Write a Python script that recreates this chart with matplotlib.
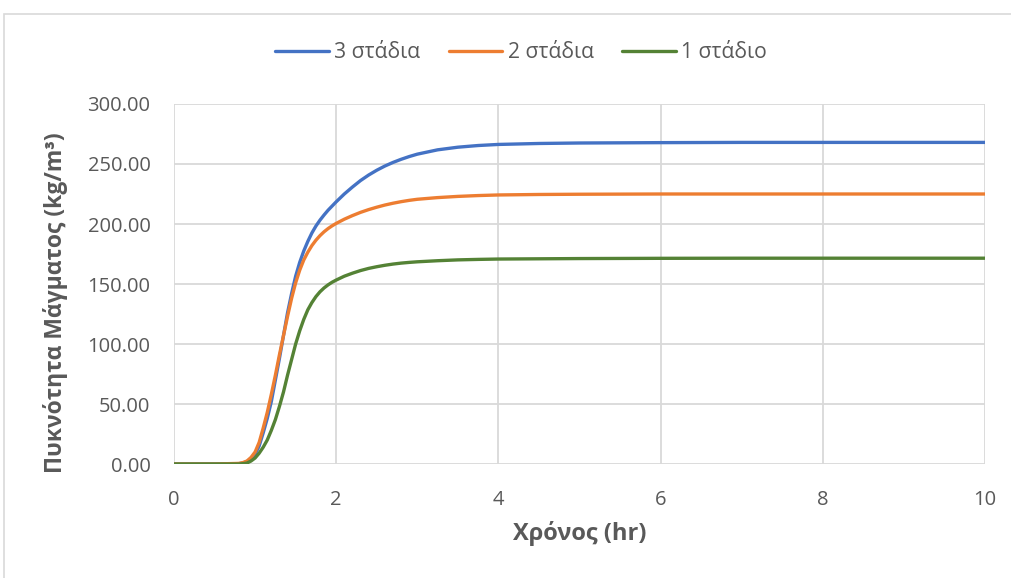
import matplotlib
matplotlib.use("Agg")
import matplotlib.pyplot as plt
from matplotlib.patches import Rectangle

plt.rcParams['font.family'] = ['Open Sans', 'DejaVu Sans']

# Time (hr)
time_hr = [0, 0.5, 0.8, 0.85, 0.9, 0.95, 1.0, 1.05, 1.1, 1.15, 1.2, 1.25, 1.3, 1.35,
           1.4, 1.45, 1.5, 1.55, 1.6, 1.65, 1.7, 1.75, 1.8, 1.85, 1.9, 1.95, 2.0,
           2.1, 2.2, 2.3, 2.4, 2.5, 2.6, 2.7, 2.8, 2.9, 3.0, 3.25, 3.5, 3.75, 4.0,
           4.5, 5, 6, 7, 8, 9, 10]

# Slurry density (kg/m3) for each number of stages
stages_3 = [0, 0, 0.3, 0.8, 2, 4.5, 8, 15, 26, 38, 52, 70, 88, 107,
            126, 142, 156.5, 168, 177.5, 185.5, 192.5, 198.3, 203.2, 207.5, 211.5, 215, 218.5,
            225, 230.8, 236.2, 240.8, 244.8, 248.3, 251.3, 253.9, 256.2, 258.2, 261.8, 264, 265.4, 266.3,
            267.1, 267.5, 267.8, 268, 268, 268, 268]
stages_2 = [0, 0, 0.5, 1.2, 2.5, 5.5, 10, 18, 30, 43, 58, 74, 91, 107,
            123, 138, 151, 161.5, 170, 176.5, 182, 186.5, 190.3, 193.5, 196.2, 198.5, 200.5,
            204, 207, 209.7, 212, 214, 215.8, 217.3, 218.6, 219.7, 220.6, 222, 223, 223.7, 224.2,
            224.6, 224.8, 225, 225, 225, 225, 225]
stages_1 = [0, 0, 0, 0.3, 0.8, 2.5, 5, 9, 14, 20, 28, 37, 48, 60,
            74, 87, 100, 111, 120.5, 128.5, 134.5, 139.5, 143.5, 146.7, 149.3, 151.5, 153.3,
            156.5, 159, 161.2, 163, 164.4, 165.6, 166.6, 167.4, 168, 168.5, 169.4, 170.1, 170.5, 170.8,
            171, 171.2, 171.4, 171.5, 171.5, 171.5, 171.5]

series_labels = ['3 στάδια', '2 στάδια', '1 στάδιο']
series_colors = ['#4472C4', '#ED7D31', '#548235']

x_ticks = [0, 2, 4, 6, 8, 10]
y_ticks = [0, 50, 100, 150, 200, 250, 300]

text_color = '#595959'
grid_color = '#D9D9D9'

fig = plt.figure(figsize=(10.12, 5.78), dpi=100)
fig.patch.set_facecolor('white')

# chart frame
fig.patches.append(Rectangle((4 / 1012, -0.05), 1.1, (578 - 14) / 578 + 0.05,
                             transform=fig.transFigure, fill=False,
                             edgecolor='#D9D9D9', linewidth=1.2, zorder=0))

ax = fig.add_axes([174 / 1012, (578 - 464) / 578, 811 / 1012, 360 / 578])

for vals, lab, col in zip([stages_3, stages_2, stages_1], series_labels, series_colors):
    ax.plot(time_hr, vals, color=col, linewidth=2.4, label=lab,
            solid_capstyle='round', solid_joinstyle='round', zorder=3)

ax.set_xlim(0, 10)
ax.set_ylim(0, 300)
ax.set_xticks(x_ticks)
ax.set_yticks(y_ticks)
ax.set_yticklabels([f'{v:.2f}' for v in y_ticks])
ax.grid(True, color=grid_color, linewidth=1.3, zorder=0)
ax.set_axisbelow(True)
for s in ax.spines.values():
    s.set_visible(False)
ax.tick_params(length=0, labelsize=14.5, labelcolor=text_color)
ax.tick_params(axis='x', pad=19)
ax.tick_params(axis='y', pad=17)

ax.set_xlabel('Χρόνος (hr)', fontsize=17, fontweight='bold', color=text_color, labelpad=8)
ax.set_ylabel('Πυκνότητα Μάγματος (kg/m³)', fontsize=16.5, fontweight='bold',
              color=text_color)
ax.yaxis.label.set_verticalalignment('center')
ax.yaxis.set_label_coords((56 - 174) / 811, (464 - 303) / 360)

fig.legend(loc='center', bbox_to_anchor=(521 / 1012, 1 - 53 / 578), ncol=3, frameon=False,
           fontsize=15.2, labelcolor=text_color, handlelength=2.55, handletextpad=0.25,
           columnspacing=1.35)

fig.savefig('out.png', dpi=100)
